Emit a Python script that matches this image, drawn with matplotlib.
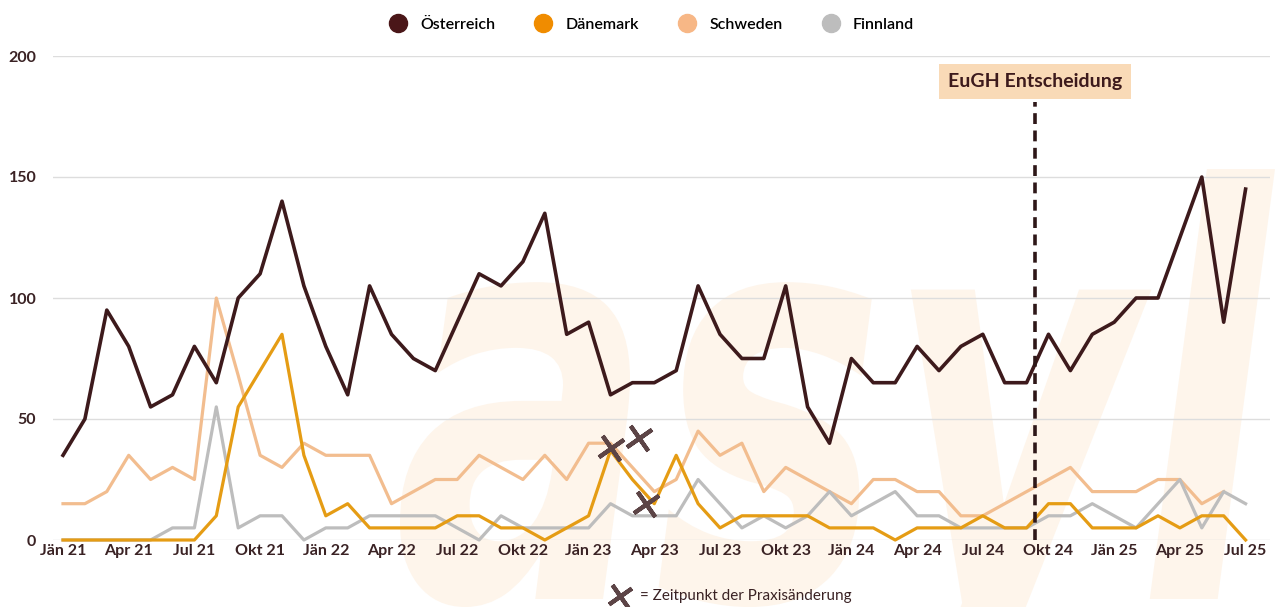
import numpy as np
import matplotlib.pyplot as plt
from matplotlib.font_manager import FontProperties
from matplotlib.lines import Line2D
from matplotlib.patches import PathPatch
from matplotlib.textpath import TextPath
from matplotlib.transforms import Affine2D

plt.rcParams['font.family'] = ['Lato', 'DejaVu Sans']

# Monatswerte Jän 21 bis Jul 25
monate = np.arange(55)
tick_pos = np.arange(0, 55, 3)
tick_labels = ["Jän 21", "Apr 21", "Jul 21", "Okt 21",
               "Jän 22", "Apr 22", "Jul 22", "Okt 22",
               "Jän 23", "Apr 23", "Jul 23", "Okt 23",
               "Jän 24", "Apr 24", "Jul 24", "Okt 24",
               "Jän 25", "Apr 25", "Jul 25"]

oesterreich = [35, 50, 95, 80, 55, 60, 80, 65, 100, 110,
               140, 105, 80, 60, 105, 85, 75, 70, 90, 110,
               105, 115, 135, 85, 90, 60, 65, 65, 70, 105,
               85, 75, 75, 105, 55, 40, 75, 65, 65, 80,
               70, 80, 85, 65, 65, 85, 70, 85, 90, 100,
               100, 125, 150, 90, 145]
daenemark = [0, 0, 0, 0, 0, 0, 0, 10, 55, 70,
             85, 35, 10, 15, 5, 5, 5, 5, 10, 10,
             5, 5, 0, 5, 10, 37, 25, 15, 35, 15,
             5, 10, 10, 10, 10, 5, 5, 5, 0, 5,
             5, 5, 10, 5, 5, 15, 15, 5, 5, 5,
             10, 5, 10, 10, 0]
schweden = [15, 15, 20, 35, 25, 30, 25, 100, 68, 35,
            30, 40, 35, 35, 35, 15, 20, 25, 25, 35,
            30, 25, 35, 25, 40, 40, 30, 20, 25, 45,
            35, 40, 20, 30, 25, 20, 15, 25, 25, 20,
            20, 10, 10, 15, 20, 25, 30, 20, 20, 20,
            25, 25, 15, 20, np.nan]
finnland = [0, 0, 0, 0, 0, 5, 5, 55, 5, 10,
            10, 0, 5, 5, 10, 10, 10, 10, 5, 0,
            10, 5, 5, 5, 5, 15, 10, 10, 10, 25,
            15, 5, 10, 5, 10, 20, 10, 15, 20, 10,
            10, 5, 5, 5, 5, 10, 10, 15, 10, 5,
            15, 25, 5, 20, 15]

# Zeitpunkte der Praxisänderung (Monat, Wert)
praxis_monat = [25, 26.3, 26.6]
praxis_wert = [38, 42, 15]
eugh_monat = 44.4

c_at = '#3d1a1c'
c_dk = '#e59c14'
c_se = '#f2bd8f'
c_fi = '#bdbdbd'
c_text = '#3a2224'

W, H = 1276, 607
fig = plt.figure(figsize=(W / 100, H / 100), dpi=100)
fig.patch.set_facecolor('white')

# großes "asyl" im Hintergrund
tp = TextPath((0, 0), "asyl", size=1,
              prop=FontProperties(family='DejaVu Sans', weight='bold', style='italic'))
bb = tp.get_extents()
sx = 875 / bb.width
sy = 430 / 0.76
tr = (Affine2D().translate(-bb.x0, 0).scale(sx, sy).translate(400, 8)
      .scale(1 / W, 1 / H) + fig.transFigure)
fig.add_artist(PathPatch(tp, transform=tr, fc='#fef5eb', ec='none', zorder=-1))

ax = fig.add_axes([53 / W, 67 / H, (1270 - 53) / W, 484 / H])
ax.patch.set_alpha(0)
ax.set_xlim((53 - 63) / 21.9, (1270 - 63) / 21.9)
ax.set_ylim(0, 200)

ax.plot(monate, finnland, color=c_fi, lw=2.3, clip_on=False, zorder=3)
ax.plot(monate, schweden, color=c_se, lw=2.3, clip_on=False, zorder=2)
ax.plot(monate, daenemark, color=c_dk, lw=2.3, clip_on=False, zorder=4)
ax.plot(monate, oesterreich, color=c_at, lw=2.6, clip_on=False, zorder=5)

ax.plot(praxis_monat, praxis_wert, linestyle='none', marker=(4, 2, 35),
        markersize=22, mew=3, mec='#5c4446', zorder=6)

# EuGH Entscheidung
ax.plot([eugh_monat, eugh_monat], [0, 181], color='#2e1718', lw=2.6,
        linestyle=(0, (3, 1.8)), zorder=7, clip_on=False)
ax.text(eugh_monat, 189.5, "EuGH Entscheidung", ha='center', va='center',
        fontsize=14, fontweight='bold', color=c_at, zorder=8,
        bbox=dict(boxstyle='square,pad=0.45', fc='#f9dab7', ec='none'))

ax.set_yticks([0, 50, 100, 150, 200])
ax.set_xticks(tick_pos)
ax.set_xticklabels(tick_labels)
ax.grid(axis='y', color='#dddddd', lw=1)
ax.set_axisbelow(True)
for s in ax.spines.values():
    s.set_visible(False)
ax.tick_params(axis='both', length=0, labelsize=11.5, labelcolor=c_text)
ax.tick_params(axis='y', pad=12)
ax.tick_params(axis='x', pad=3)
for lab in ax.get_xticklabels() + ax.get_yticklabels():
    lab.set_fontweight('bold')

handles = [Line2D([], [], linestyle='none', marker='o', markersize=13, color=c)
           for c in ['#4a1618', '#f08c00', '#f7b786', '#bdbdbd']]
fig.legend(handles, ["Österreich", "Dänemark", "Schweden", "Finnland"],
           loc='center', bbox_to_anchor=(648 / W, 1 - 25 / H), ncol=4,
           frameon=False, handletextpad=0.4, columnspacing=2.0,
           prop={'weight': 'semibold', 'size': 11.5})

fig.add_artist(Line2D([620 / W], [1 - 596 / H], linestyle='none', marker=(4, 2, 35),
                      markersize=20, mew=3, mec='#5c4446'))
fig.text(640 / W, 1 - 596 / H, "= Zeitpunkt der Praxisänderung", ha='left',
         va='center', fontsize=11, color=c_text)

fig.savefig('out.png', dpi=100)
